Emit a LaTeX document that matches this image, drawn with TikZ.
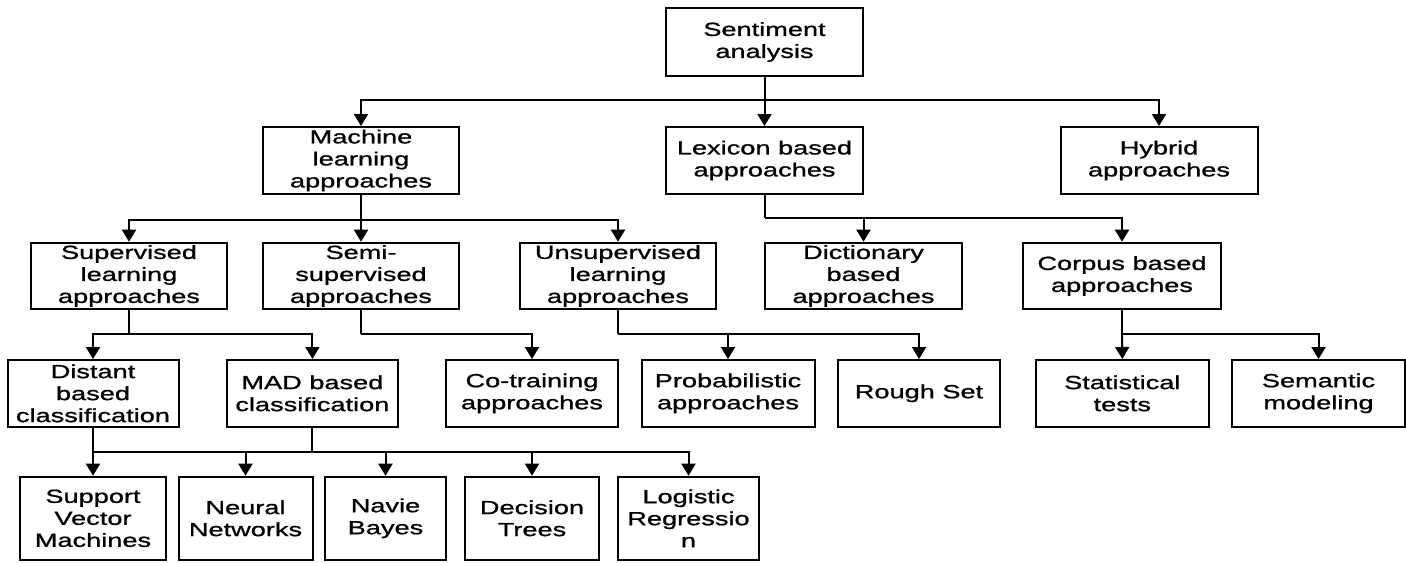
\documentclass[tikz,border=0pt]{standalone}
\usepackage{fontspec}
\setmainfont{Liberation Sans}[FakeStretch=1.43,FakeBold=1.0]
\usetikzlibrary{arrows.meta}
\begin{document}
\begin{tikzpicture}[x=0.5pt,y=-0.5pt,
  box/.style={draw=black,line width=1pt,align=center,inner sep=0pt,
    font=\fontsize{9.5pt}{11pt}\selectfont},
  arr/.style={-{Triangle[width=7pt,length=6pt]},line width=1pt},
  ln/.style={line width=1pt}]
\useasboundingbox (0,0) rectangle (1406,562);
% level 0
\node[box,minimum width=98.5pt,minimum height=34pt] (sent) at (764.5,42) {Sentiment\\analysis};
% level 1
\node[box,minimum width=98pt,minimum height=33.5pt] (ml) at (361,160.5) {Machine\\learning\\approaches};
\node[box,minimum width=98.5pt,minimum height=33.5pt] (lex) at (764.5,160.5) {Lexicon based\\approaches};
\node[box,minimum width=98.5pt,minimum height=33.5pt] (hyb) at (1159,160.5) {Hybrid\\approaches};
% level 2
\node[box,minimum width=98pt,minimum height=33.3pt] (sup) at (129,276) {Supervised\\learning\\approaches};
\node[box,minimum width=98pt,minimum height=33.3pt] (semi) at (361,276) {Semi-\\supervised\\approaches};
\node[box,minimum width=98pt,minimum height=33.3pt] (unsup) at (618,276) {Unsupervised\\learning\\approaches};
\node[box,minimum width=98.5pt,minimum height=33.3pt] (dict) at (863.5,276) {Dictionary\\based\\approaches};
\node[box,minimum width=99pt,minimum height=33.3pt] (corp) at (1122,276) {Corpus based\\approaches};
% level 3
\node[box,minimum width=85.5pt,minimum height=33.3pt] (dist) at (93,393.3) {Distant\\based\\classification};
\node[box,minimum width=85.5pt,minimum height=33.3pt] (mad) at (312.4,393.3) {MAD based\\classification};
\node[box,minimum width=86pt,minimum height=33.3pt] (cot) at (532,393.3) {Co-training\\approaches};
\node[box,minimum width=86.5pt,minimum height=33.3pt] (prob) at (728,393.3) {Probabilistic\\approaches};
\node[box,minimum width=81pt,minimum height=33.3pt] (rough) at (919,393.3) {Rough Set};
\node[box,minimum width=86.7pt,minimum height=33.3pt] (stat) at (1122.3,393.3) {Statistical\\tests};
\node[box,minimum width=86.5pt,minimum height=33.3pt] (sem) at (1318.5,393.3) {Semantic\\modeling};
% level 4
\node[box,minimum width=73pt,minimum height=41.6pt] (svm) at (93,518.3) {Support\\Vector\\Machines};
\node[box,minimum width=67pt,minimum height=41.6pt] (nn) at (245.5,518.3) {Neural\\Networks};
\node[box,minimum width=60.5pt,minimum height=41.6pt] (nb) at (385.5,518.3) {Navie\\Bayes};
\node[box,minimum width=67pt,minimum height=41.6pt] (dt) at (532,518.3) {Decision\\Trees};
\node[box,minimum width=70.5pt,minimum height=41.6pt] (lr) at (688.5,518.3) {Logistic\\Regressio\\n};
% junctions
\coordinate (j0) at (764.5,100);
\coordinate (jml) at (361,220);
\coordinate (jlex) at (764.5,218);
\coordinate (jsup) at (129,334);
\coordinate (jsemi) at (361,334);
\coordinate (junsup) at (618,334);
\coordinate (jcorp) at (1122,334);
\coordinate (jd) at (93,451.7);
\coordinate (jm) at (312.4,451.7);
% connectors
\draw[ln] (sent.south) -- (j0);
\draw[arr] (j0) -| (ml.north);
\draw[arr] (j0) -- (lex.north);
\draw[arr] (j0) -| (hyb.north);
\draw[ln] (ml.south) -- (jml);
\draw[arr] (jml) -| (sup.north);
\draw[arr] (jml) -- (semi.north);
\draw[arr] (jml) -| (unsup.north);
\draw[ln] (lex.south) -- (jlex);
\draw[arr] (jlex) -| (dict.north);
\draw[arr] (jlex) -| (corp.north);
\draw[ln] (sup.south) -- (jsup);
\draw[arr] (jsup) -| (dist.north);
\draw[arr] (jsup) -| (mad.north);
\draw[ln] (semi.south) -- (jsemi);
\draw[arr] (jsemi) -| (cot.north);
\draw[ln] (unsup.south) -- (junsup);
\draw[arr] (junsup) -| (prob.north);
\draw[arr] (junsup) -| (rough.north);
\draw[ln] (corp.south) -- (jcorp);
\draw[arr] (jcorp) -- (stat.north);
\draw[arr] (jcorp) -| (sem.north);
\draw[ln] (dist.south) -- (jd);
\draw[ln] (mad.south) -- (jm);
\draw[arr] (jd) -- (svm.north);
\draw[arr] (jd) -| (nn.north);
\draw[arr] (jd) -| (nb.north);
\draw[arr] (jd) -| (dt.north);
\draw[arr] (jd) -| (lr.north);
\end{tikzpicture}
\end{document}
